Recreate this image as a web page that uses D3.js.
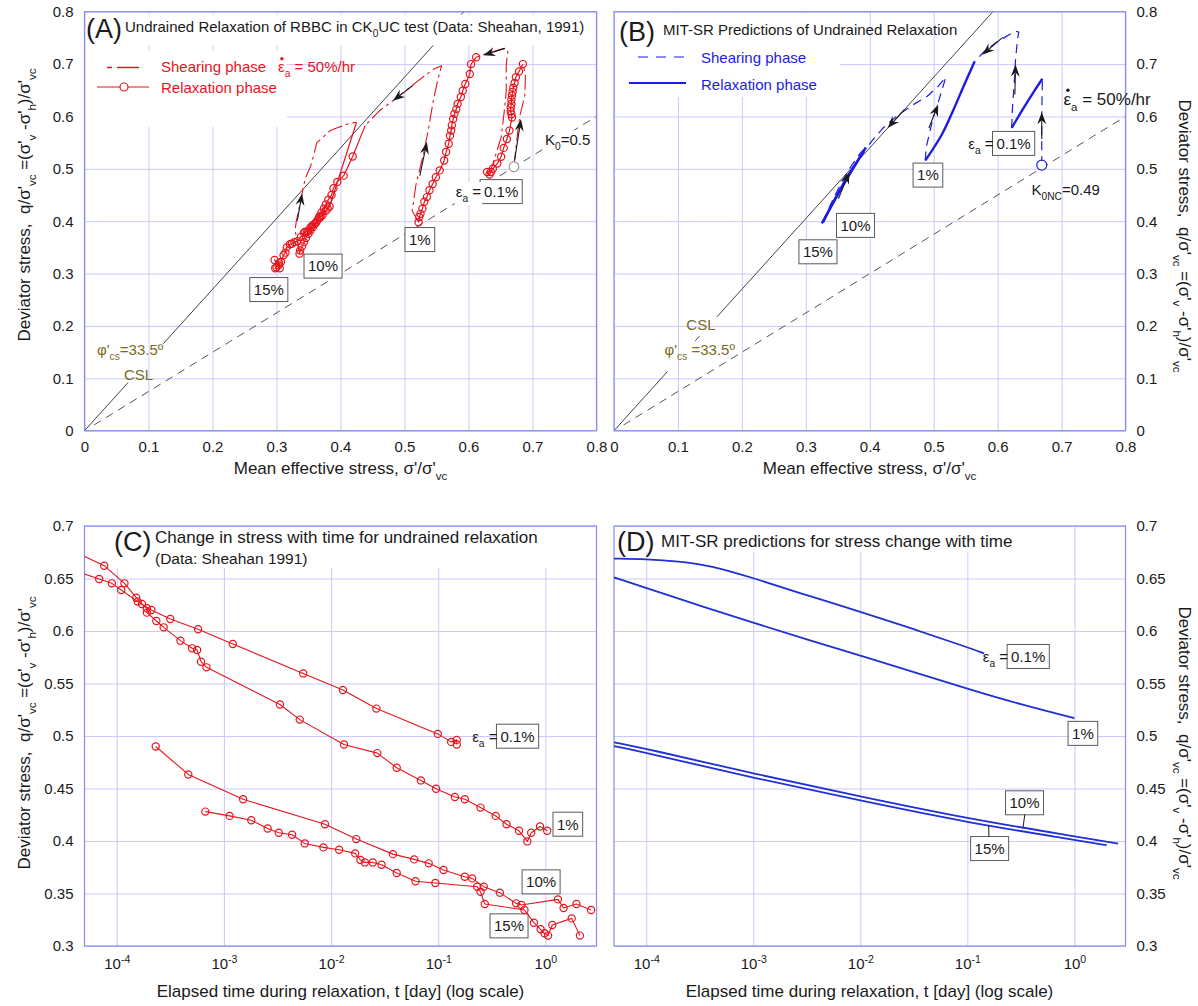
<!DOCTYPE html>
<html>
<head>
<meta charset="utf-8">
<title>Undrained relaxation of RBBC – measured and MIT-SR predicted</title>
<script src="https://cdn.jsdelivr.net/npm/d3@7/dist/d3.min.js"></script>
<style>
  html, body { margin: 0; padding: 0; background: #fff; }
  svg text { font-family: "Liberation Sans", Arial, Helvetica, sans-serif; white-space: pre; }
</style>
</head>
<body>
<svg id="fig" width="1198" height="1006"></svg>
<script>
// ---------------------------------------------------------------- tick values
const stressTicks = [0, 0.1, 0.2, 0.3, 0.4, 0.5, 0.6, 0.7, 0.8];
const qTimeTicks = [0.3, 0.35, 0.4, 0.45, 0.5, 0.55, 0.6, 0.65, 0.7];
const timeTicks = [1e-4, 1e-3, 1e-2, 1e-1, 1];

// ---------------------------------------------------------------- reference lines
const cslSlope = 1.35;               // M for phi'cs = 33.5 deg
const k0Line = [[0.015, 0.011], [0.8, 0.6]];
const cslPiecesA = [[[0, 0], [0.068, 0.0918]], [[0.123, 0.166], [0.5926, 0.8]]];
const cslPiecesB = [[[0, 0], [0.0836, 0.1129]], [[0.127, 0.1715], [0.134, 0.181]], [[0.161, 0.2174], [0.5926, 0.8]]];

// ---------------------------------------------------------------- (A) measured paths [p'/σ'vc, q/σ'vc]
const measStartA = [0.671, 0.504];
const measShear01 = [[0.671,0.504],[0.675,0.550],[0.680,0.600],[0.688,0.640],[0.689,0.680],[0.685,0.700]];
const measRelax01 = [[0.685,0.700],[0.679,0.686],[0.674,0.675],[0.672,0.664],[0.670,0.655],[0.669,0.647],[0.668,0.640],[0.667,0.632],[0.667,0.624],[0.666,0.617],[0.666,0.610],[0.667,0.604],[0.668,0.598],[0.664,0.573],[0.660,0.557],[0.655,0.540],[0.651,0.523],[0.645,0.510],[0.638,0.500],[0.635,0.494],[0.629,0.494],[0.633,0.489]];
const measShear1 = [[0.633,0.489],[0.638,0.5095],[0.651,0.560],[0.656,0.611],[0.659,0.649],[0.659,0.700],[0.6615,0.724],[0.656,0.730],[0.633,0.722],[0.612,0.713]];
const measRelax1 = [[0.612,0.713],[0.604,0.700],[0.602,0.681],[0.595,0.662],[0.591,0.649],[0.588,0.637],[0.583,0.624],[0.581,0.614],[0.578,0.605],[0.576,0.595],[0.574,0.583],[0.573,0.573],[0.571,0.563],[0.569,0.548],[0.565,0.532],[0.562,0.516],[0.555,0.497],[0.549,0.484],[0.544,0.471],[0.539,0.459],[0.535,0.446],[0.531,0.437],[0.528,0.424],[0.525,0.414],[0.523,0.408],[0.522,0.398]];
const measShear10 = [[0.522,0.398],[0.512,0.420],[0.518,0.470],[0.530,0.530],[0.538,0.580],[0.545,0.630],[0.552,0.670],[0.558,0.697],[0.545,0.690],[0.518,0.665],[0.482,0.630],[0.461,0.611],[0.4385,0.5825]];
// first entry of each of the next two is the end of the preceding shear (no marker)
const measRelax10 = [[0.4385,0.5825],[0.419,0.5235],[0.405,0.487],[0.395,0.475],[0.389,0.463],[0.386,0.450],[0.381,0.441],[0.377,0.432],[0.374,0.424],[0.370,0.416],[0.367,0.409],[0.364,0.402],[0.361,0.396],[0.357,0.389],[0.353,0.382],[0.350,0.376],[0.346,0.368],[0.343,0.360],[0.340,0.352],[0.337,0.344],[0.336,0.338]];
const measShear15 = [[0.336,0.338],[0.329,0.383],[0.331,0.400],[0.340,0.453],[0.345,0.482],[0.353,0.504],[0.3575,0.523],[0.363,0.550],[0.374,0.562],[0.384,0.573],[0.394,0.578],[0.415,0.587],[0.425,0.589]];
const measRelax15 = [[0.425,0.589],[0.383,0.428],[0.380,0.424],[0.377,0.420],[0.372,0.412],[0.369,0.408],[0.367,0.406],[0.362,0.398],[0.359,0.394],[0.356,0.392],[0.353,0.388],[0.350,0.382],[0.348,0.380],[0.345,0.380],[0.343,0.378],[0.338,0.370],[0.333,0.362],[0.328,0.360],[0.324,0.357],[0.321,0.356],[0.316,0.350],[0.314,0.340],[0.311,0.335],[0.307,0.322],[0.303,0.316],[0.300,0.312],[0.298,0.310],[0.304,0.320],[0.297,0.326],[0.305,0.310]];
const arrowsA = [
  [[0.672,0.516],[0.682,0.595]],
  [[0.657,0.730],[0.623,0.717]],
  [[0.524,0.487],[0.535,0.551]],
  [[0.513,0.659],[0.482,0.630]],
  [[0.3325,0.401],[0.340,0.453]]
];

// ---------------------------------------------------------------- (B) MIT-SR predicted paths
const predStartB = [0.669, 0.507];
const predShear01 = [[0.669,0.507],[0.669,0.600],[0.670,0.672]];
const predRelax01 = [[0.670,0.672],[0.657,0.648],[0.639,0.613],[0.622,0.578]];
const predShear1 = [[0.622,0.578],[0.623,0.613],[0.626,0.664],[0.628,0.708],[0.631,0.746],[0.633,0.761],[0.628,0.763],[0.600,0.743],[0.579,0.724],[0.564,0.705]];
const predRelax1 = [[0.564,0.705],[0.549,0.664],[0.531,0.613],[0.513,0.566],[0.487,0.516]];
const predShear10 = [[0.487,0.516],[0.488,0.540],[0.4985,0.594],[0.510,0.6385],[0.519,0.675],[0.507,0.6576],[0.490,0.6385],[0.466,0.621],[0.442,0.6005],[0.421,0.578],[0.406,0.557],[0.391,0.534]];
const predRelax10 = [[0.391,0.534],[0.360,0.474],[0.327,0.398]];
const predShear15 = [[0.327,0.398],[0.338,0.430],[0.352,0.465],[0.368,0.500],[0.385,0.530],[0.394,0.541]];
const predRelax15 = [[0.394,0.541],[0.362,0.476],[0.325,0.396]];
const arrowsB = [
  [[0.669,0.557],[0.669,0.608]],
  [[0.627,0.642],[0.628,0.699]],
  [[0.608,0.751],[0.576,0.718]],
  [[0.4925,0.578],[0.507,0.623]],
  [[0.454,0.613],[0.428,0.578]],
  [[0.351,0.443],[0.368,0.494]]
];

// ---------------------------------------------------------------- (C) measured q/σ'vc vs elapsed time [day]
const measTime01 = [[3e-5,0.662],[6.85e-5,0.6495],[9.0e-5,0.6454],[1.10e-4,0.639],[1.57e-4,0.628],[2.10e-4,0.620],[3.16e-4,0.6114],[5.74e-4,0.6016],[1.21e-3,0.5876],[5.5e-3,0.5596],[1.29e-2,0.5438],[2.65e-2,0.5261],[9.9e-2,0.502],[0.132,0.4944],[0.149,0.4963],[0.149,0.4919]];
const measTime1 = [[3e-5,0.682],[7.64e-5,0.6622],[1.18e-4,0.6454],[1.52e-4,0.6317],[1.72e-4,0.6257],[1.91e-4,0.6216],[1.91e-4,0.6175],[2.34e-4,0.6095],[2.74e-4,0.6035],[3.93e-4,0.5908],[5.05e-4,0.5835],[5.62e-4,0.5819],[6.12e-4,0.5708],[6.87e-4,0.5654],[3.33e-3,0.530],[5.1e-3,0.5156],[1.32e-2,0.4919],[2.70e-2,0.4837],[4.10e-2,0.4698],[6.89e-2,0.4577],[9.55e-2,0.4498],[0.143,0.4419],[0.177,0.4397],[0.248,0.4318],[0.344,0.4239],[0.434,0.4160],[0.567,0.4097],[0.679,0.3996],[0.738,0.4078],[0.891,0.4138],[1.04,0.4097]];
const measTime10 = [[2.31e-4,0.490],[4.65e-4,0.4634],[1.51e-3,0.4397],[8.77e-3,0.416],[1.72e-2,0.4018],[3.78e-2,0.3875],[5.97e-2,0.3825],[8.15e-2,0.3787],[0.112,0.3724],[0.177,0.366],[0.207,0.3644],[0.266,0.3565],[0.376,0.3508],[0.533,0.3406],[0.598,0.339],[1.31,0.3444],[1.48,0.3362],[1.95,0.340],[2.67,0.3343]];
const measTime15 = [[6.71e-4,0.428],[1.13e-3,0.4239],[1.80e-3,0.4198],[2.56e-3,0.4119],[3.25e-3,0.4078],[4.33e-3,0.4059],[5.68e-3,0.3977],[8.49e-3,0.3939],[1.19e-2,0.3917],[1.68e-2,0.3882],[1.88e-2,0.3819],[2.07e-2,0.3796],[2.45e-2,0.3796],[2.96e-2,0.3774],[4.10e-2,0.3695],[6.14e-2,0.3616],[9.4e-2,0.3600],[0.231,0.3565],[0.248,0.3517],[0.272,0.340],[0.638,0.3343],[0.782,0.3222],[0.902,0.3159],[0.982,0.3121],[1.06,0.3099],[1.16,0.320],[1.76,0.3263],[2.10,0.3099]];

// ---------------------------------------------------------------- (D) MIT-SR predicted q/σ'vc vs time
const predTime01 = [[5e-5,0.669],[1e-4,0.6685],[2e-4,0.6665],[4e-4,0.6625],[1e-3,0.6505],[3.16e-3,0.634],[1e-2,0.6185],[3.16e-2,0.6018],[0.1,0.5845],[0.143,0.5787]];
const predTime1 = [[5e-5,0.651],[1e-4,0.641],[3.16e-4,0.624],[1e-3,0.608],[3.16e-3,0.592],[1e-2,0.5765],[3.16e-2,0.561],[0.1,0.545],[0.316,0.530],[1,0.517]];
const predTime10 = [[5e-5,0.494],[1e-4,0.488],[1e-3,0.464],[1e-2,0.4425],[0.1,0.4213],[1,0.4045],[2.56,0.3976]];
const predTime15 = [[5e-5,0.4904],[1e-4,0.484],[1e-3,0.460],[1e-2,0.4385],[0.1,0.4175],[1,0.4012],[2.0,0.396]];

// ---------------------------------------------------------------- styling
const RED = "#e8141c", BLUE = "#1c1ce6", GRID = "#c9c9fa", FRAME = "#8a8af2",
      OLIVE = "#7b6a1e", INK = "#1a1a1a", FONT = "'Liberation Sans', Arial, Helvetica, sans-serif";

const svg = d3.select("#fig");

// ---------------------------------------------------------------- scales
const xA = d3.scaleLinear().domain([0, 0.8]).range([84.5, 596.5]);
const yA = d3.scaleLinear().domain([0, 0.8]).range([430.7, 11.7]);
const xB = d3.scaleLinear().domain([0, 0.8]).range([614, 1125.5]);
const yB = yA;
const xC = d3.scaleLog().domain([5e-5, 3]).range([84.5, 596.5]);
const yC = d3.scaleLinear().domain([0.3, 0.7]).range([946, 526]);
const xD = d3.scaleLog().domain([5e-5, 3]).range([614, 1125.5]);
const yD = yC;
const px = d3.scaleIdentity();

// ---------------------------------------------------------------- helpers
function richText(g, x, y, parts, size, opts = {}) {
  const t = g.append("text").attr("x", x).attr("y", y).attr("font-size", size)
    .attr("fill", opts.fill || INK).attr("text-anchor", opts.anchor || "start");
  if (opts.transform) t.attr("transform", opts.transform);
  let off = 0;
  for (const [s, k] of parts) {
    const target = k === 1 ? size * 0.33 : k === 2 ? -size * 0.45 : 0;
    t.append("tspan").attr("dy", target - off).attr("font-size", k ? size * 0.68 : size).text(s);
    off = target;
  }
  return t;
}

function whiteBehind(g, t, pad) {
  const b = t.node().getBBox();
  g.insert("rect", () => t.node()).attr("x", b.x - pad).attr("y", b.y - 1)
    .attr("width", b.width + 2 * pad).attr("height", b.height + 2).attr("fill", "#fff");
}

function gridAndFrame(g, x, y, xt, yt) {
  const [xa, xb] = x.range(), [ya, yb] = y.range();
  g.append("g").attr("transform", `translate(0,${ya})`)
    .call(d3.axisBottom(x).tickValues(xt).tickSize(-(ya - yb)).tickFormat(""))
    .call(s => { s.select(".domain").remove(); s.selectAll("line").attr("stroke", GRID).attr("stroke-width", 1); });
  g.append("g").attr("transform", `translate(${xa},0)`)
    .call(d3.axisLeft(y).tickValues(yt).tickSize(-(xb - xa)).tickFormat(""))
    .call(s => { s.select(".domain").remove(); s.selectAll("line").attr("stroke", GRID).attr("stroke-width", 1); });
}
function frame(g, x, y) {
  const [xa, xb] = x.range(), [ya, yb] = y.range();
  g.append("rect").attr("x", xa).attr("y", yb).attr("width", xb - xa).attr("height", ya - yb)
    .attr("fill", "none").attr("stroke", FRAME).attr("stroke-width", 1.2);
}
function styleAxis(s) {
  s.select(".domain").remove();
  s.attr("font-size", 15).attr("font-family", FONT);
  s.selectAll("text").attr("fill", INK);
}
function linearLabels(g, x, y, xt, yt, side) {
  const [xa, xb] = x.range(), [ya] = y.range();
  g.append("g").attr("transform", `translate(0,${ya})`)
    .call(d3.axisBottom(x).tickValues(xt).tickSize(0).tickPadding(11).tickFormat(d3.format("~g"))).call(styleAxis);
  const ax = side === "right" ? d3.axisRight(y) : d3.axisLeft(y);
  g.append("g").attr("transform", `translate(${side === "right" ? xb : xa},0)`)
    .call(ax.tickValues(yt).tickSize(0).tickPadding(11).tickFormat(d3.format("~g"))).call(styleAxis);
}
function logLabels(g, x, y, xt, yt, side) {
  const [xa, xb] = x.range(), [ya] = y.range();
  g.append("g").attr("transform", `translate(0,${ya})`)
    .call(d3.axisBottom(x).tickValues(xt).tickSize(0).tickPadding(12).tickFormat(""))
    .call(styleAxis)
    .call(s => s.selectAll(".tick text").each(function (d) {
      const t = d3.select(this);
      t.append("tspan").text("10");
      t.append("tspan").attr("dy", "-0.5em").attr("font-size", 10.5).text(Math.round(Math.log10(d)));
    }));
  const ax = side === "right" ? d3.axisRight(y) : d3.axisLeft(y);
  g.append("g").attr("transform", `translate(${side === "right" ? xb : xa},0)`)
    .call(ax.tickValues(yt).tickSize(0).tickPadding(11).tickFormat(d3.format("~g"))).call(styleAxis);
}

function clipFor(id, x, y) {
  const [xa, xb] = x.range(), [ya, yb] = y.range();
  svg.append("clipPath").attr("id", id).append("rect")
    .attr("x", xa).attr("y", yb).attr("width", xb - xa).attr("height", ya - yb);
  return svg.append("g").attr("clip-path", `url(#${id})`);
}

function path(g, x, y, pts, stroke, width, dash, curve) {
  const line = d3.line().x(d => x(d[0])).y(d => y(d[1]));
  if (curve) line.curve(curve);
  const p = g.append("path").attr("d", line(pts)).attr("fill", "none")
    .attr("stroke", stroke).attr("stroke-width", width).attr("stroke-linejoin", "round");
  if (dash) p.attr("stroke-dasharray", dash);
  return p;
}
function circles(g, x, y, pts, stroke) {
  g.selectAll(null).data(pts).join("circle")
    .attr("cx", d => x(d[0])).attr("cy", d => y(d[1])).attr("r", 3.6)
    .attr("fill", "none").attr("stroke", stroke).attr("stroke-width", 1.2);
}
function arrow(g, x, y, seg) {
  const [a, b] = seg;
  const x1 = x(a[0]), y1 = y(a[1]), x2 = x(b[0]), y2 = y(b[1]);
  const dx = x2 - x1, dy = y2 - y1, L = Math.hypot(dx, dy), ux = dx / L, uy = dy / L, nx = -uy, ny = ux;
  const hl = 12, hw = 4.5, notch = 8;
  g.append("line").attr("x1", x1).attr("y1", y1).attr("x2", x2 - ux * notch).attr("y2", y2 - uy * notch)
    .attr("stroke", INK).attr("stroke-width", 1.1);
  g.append("path").attr("fill", INK).attr("d",
    `M${x2},${y2}L${x2 - ux * hl + nx * hw},${y2 - uy * hl + ny * hw}L${x2 - ux * notch},${y2 - uy * notch}L${x2 - ux * hl - nx * hw},${y2 - uy * hl - ny * hw}Z`);
}
// boxed strain label; returns the left edge of the box
function boxLabel(g, cx, cy, txt) {
  const t = g.append("text").attr("x", cx).attr("y", cy + 5.3).attr("text-anchor", "middle")
    .attr("font-size", 15).attr("fill", INK).text(txt);
  const w = t.node().getComputedTextLength() + 8;
  g.insert("rect", () => t.node()).attr("x", cx - w / 2).attr("y", cy - 12).attr("width", w).attr("height", 24)
    .attr("fill", "#fff").attr("stroke", "#5a5a5a").attr("stroke-width", 1);
  return cx - w / 2;
}
// "εa =" written just left of a boxed value
function epsLabel(g, xRight, y, size) {
  return richText(g, xRight + 1, y, [["ε", 0], ["a", 1], [" =", 0]], size, { anchor: "end" });
}
function rateLabel(g, x, y, size, fill) {
  const t = richText(g, x, y, [["ε", 0], ["a", 1], [" = 50%/hr", 0]], size, { fill });
  g.append("circle").attr("cx", x + size * 0.26).attr("cy", y - size * 0.88).attr("r", 1.7).attr("fill", fill);
  return t;
}
const yTitleParts = [["Deviator stress,  q/σ'", 0], ["vc", 1], [" =(σ'", 0], ["v", 1], [" -σ'", 0], ["h", 1], [")/σ'", 0], ["vc", 1]];
const pTitleParts = [["Mean effective stress, σ'/σ'", 0], ["vc", 1]];
const tTitle = "Elapsed time during relaxation, t [day] (log scale)";

// ================================================================ (A)
{
  const g = svg.append("g");
  gridAndFrame(g, xA, yA, stressTicks, stressTicks);
  const lines = g.append("g");
  cslPiecesA.forEach(s => path(lines, xA, yA, s, "#444", 1));
  path(lines, xA, yA, k0Line, "#555", 1, "8,6");
  // title and legend panels sit on white
  g.append("rect").attr("x", 86).attr("y", 14.5).attr("width", 505).attr("height", 31).attr("fill", "#fff");
  g.append("rect").attr("x", 86).attr("y", 51).attr("width", 201).attr("height", 76).attr("fill", "#fff");
  frame(g, xA, yA);
  linearLabels(g, xA, yA, stressTicks, stressTicks, "left");

  const d = clipFor("clipA", xA, yA);
  const shearDash = "15,4,3,4";
  [measShear01, measShear1, measShear10, measShear15].forEach(s => path(d, xA, yA, s, RED, 1.1, shearDash));
  [measRelax01, measRelax1, measRelax10, measRelax15].forEach(s => path(d, xA, yA, s, RED, 1.2));
  circles(d, xA, yA, measRelax01, RED);
  circles(d, xA, yA, measRelax1, RED);
  circles(d, xA, yA, measRelax10.slice(1), RED);
  circles(d, xA, yA, measRelax15.slice(1), RED);
  d.append("circle").attr("cx", xA(measStartA[0])).attr("cy", yA(measStartA[1])).attr("r", 4.8)
    .attr("fill", "#fff").attr("stroke", "#999").attr("stroke-width", 1.2);
  arrowsA.forEach(s => arrow(d, xA, yA, s));

  // annotations
  richText(g, 86, 38, [["(A)", 0]], 27);
  richText(g, 125, 32, [["Undrained Relaxation of RBBC in CK", 0], ["0", 1], ["UC test (Data: Sheahan, 1991)", 0]], 15);
  path(g, px, px, [[107, 67.5], [139, 67.5]], RED, 1.3, "5,5,22,0");
  richText(g, 161, 72, [["Shearing phase", 0]], 15, { fill: RED });
  rateLabel(g, 278, 72, 15, RED);
  path(g, px, px, [[97, 87], [149, 87]], RED, 1.2);
  g.append("circle").attr("cx", 124).attr("cy", 87).attr("r", 4).attr("fill", "#fff").attr("stroke", RED).attr("stroke-width", 1.2);
  richText(g, 161, 93, [["Relaxation phase", 0]], 15, { fill: RED });

  richText(g, 97, 355, [["φ'", 0], ["cs", 1], ["=33.5º", 0]], 15, { fill: OLIVE });
  richText(g, 124, 380, [["CSL", 0]], 15, { fill: OLIVE });

  boxLabel(g, xA(0.524), yA(0.365), "1%");
  boxLabel(g, xA(0.3727), yA(0.3143), "10%");
  boxLabel(g, xA(0.288), yA(0.2695), "15%");
  const e1 = boxLabel(g, xA(0.651), yA(0.4565), "0.1%");
  whiteBehind(g, epsLabel(g, e1, yA(0.4565) + 5.5, 15), 1);
  whiteBehind(g, richText(g, xA(0.7195), yA(0.545), [["K", 0], ["0", 1], ["=0.5", 0]], 15), 2);

  richText(g, 340.5, 474, pTitleParts, 17, { anchor: "middle" });
  richText(g, 30, 205, yTitleParts, 17, { anchor: "middle", transform: "rotate(-90,30,205)" });
}

// ================================================================ (B)
{
  const g = svg.append("g");
  gridAndFrame(g, xB, yB, stressTicks, stressTicks);
  const lines = g.append("g");
  cslPiecesB.forEach(s => path(lines, xB, yB, s, "#444", 1));
  path(lines, xB, yB, k0Line, "#555", 1, "8,6");
  g.append("rect").attr("x", 615).attr("y", 13).attr("width", 225).attr("height", 84).attr("fill", "#fff");
  frame(g, xB, yB);
  linearLabels(g, xB, yB, stressTicks, stressTicks, "right");

  const d = clipFor("clipB", xB, yB);
  [predShear01, predShear1, predShear10, predShear15].forEach(s => path(d, xB, yB, s, BLUE, 1.2, "9,6"));
  [predRelax01, predRelax1, predRelax10, predRelax15].forEach(s => path(d, xB, yB, s, BLUE, 2.4, null, d3.curveMonotoneY));
  d.append("circle").attr("cx", xB(predStartB[0])).attr("cy", yB(predStartB[1])).attr("r", 5)
    .attr("fill", "#fff").attr("stroke", BLUE).attr("stroke-width", 1.2);
  arrowsB.forEach(s => arrow(d, xB, yB, s));

  richText(g, 619, 41, [["(B)", 0]], 27);
  richText(g, 663, 35, [["MIT-SR Predictions of Undrained Relaxation", 0]], 15);
  path(g, px, px, [[638, 57], [686, 57]], BLUE, 1.2, "10,8");
  richText(g, 701, 63, [["Shearing phase", 0]], 15, { fill: BLUE });
  path(g, px, px, [[629, 83], [686, 83]], BLUE, 2.2);
  richText(g, 701, 90, [["Relaxation phase", 0]], 15, { fill: BLUE });

  richText(g, xB(0.136), yB(0.204) + 6, [["CSL", 0]], 15, { fill: OLIVE, anchor: "middle" });
  richText(g, xB(0.079), yB(0.144), [["φ'", 0], ["cs", 1], [" =33.5º", 0]], 15, { fill: OLIVE });

  boxLabel(g, xB(0.319), yB(0.3416), "15%");
  boxLabel(g, xB(0.3777), yB(0.392), "10%");
  boxLabel(g, xB(0.491), yB(0.488), "1%");
  const e1 = boxLabel(g, xB(0.625), yB(0.5485), "0.1%");
  epsLabel(g, e1, yB(0.5485) + 5.5, 15);
  richText(g, xB(0.653), yB(0.450), [["K", 0], ["0NC", 1], ["=0.49", 0]], 15);
  rateLabel(g, xB(0.703), yB(0.6215), 17, INK);

  richText(g, 869.5, 474, pTitleParts, 17, { anchor: "middle" });
  richText(g, 1179, 236, yTitleParts, 17, { anchor: "middle", transform: "rotate(90,1179,236)" });
}

// ================================================================ (C)
{
  const g = svg.append("g");
  gridAndFrame(g, xC, yC, timeTicks, qTimeTicks);
  g.append("rect").attr("x", 110).attr("y", 527).attr("width", 442).attr("height", 41).attr("fill", "#fff");
  frame(g, xC, yC);
  logLabels(g, xC, yC, timeTicks, qTimeTicks, "left");

  const d = clipFor("clipC", xC, yC);
  [measTime01, measTime1, measTime10, measTime15].forEach(s => {
    path(d, xC, yC, s, RED, 1.1);
    circles(d, xC, yC, s.filter(p => p[0] >= 5e-5), RED);
  });

  richText(g, 114, 551, [["(C)", 0]], 27);
  richText(g, 155, 543, [["Change in stress with time for undrained relaxation", 0]], 17);
  richText(g, 155, 564, [["(Data: Sheahan 1991)", 0]], 15.5);

  const e1 = boxLabel(g, xC(0.55), yC(0.4998), "0.1%");
  epsLabel(g, e1, yC(0.4998) + 5.5, 15);
  boxLabel(g, xC(1.62), yC(0.416), "1%");
  boxLabel(g, xC(0.912), yC(0.3611), "10%");
  boxLabel(g, xC(0.458), yC(0.3192), "15%");

  richText(g, 340.5, 997, [[tTitle, 0]], 17, { anchor: "middle" });
  richText(g, 30, 733, yTitleParts, 17, { anchor: "middle", transform: "rotate(-90,30,733)" });
}

// ================================================================ (D)
{
  const g = svg.append("g");
  gridAndFrame(g, xD, yD, timeTicks, qTimeTicks);
  g.append("rect").attr("x", 615).attr("y", 527).attr("width", 417).attr("height", 25).attr("fill", "#fff");
  frame(g, xD, yD);
  logLabels(g, xD, yD, timeTicks, qTimeTicks, "right");

  const d = clipFor("clipD", xD, yD);
  [predTime01, predTime1, predTime10, predTime15].forEach(s => path(d, xD, yD, s, "#2030d4", 1.8, null, d3.curveBasis));

  richText(g, 617, 551, [["(D)", 0]], 27);
  richText(g, 661, 547, [["MIT-SR predictions for stress change with time", 0]], 17);

  const e1 = boxLabel(g, xD(0.37), yD(0.5757), "0.1%");
  epsLabel(g, e1, yD(0.5757) + 5.5, 15);
  boxLabel(g, xD(1.2), yD(0.5025), "1%");
  boxLabel(g, xD(0.342), yD(0.4364), "10%");
  boxLabel(g, xD(0.1614), yD(0.3928), "15%");
  path(g, xD, yD, [[0.344, 0.4254], [0.33, 0.4118]], INK, 1);
  path(g, xD, yD, [[0.159, 0.404], [0.158, 0.4153]], INK, 1);

  richText(g, 869.5, 997, [[tTitle, 0]], 17, { anchor: "middle" });
  richText(g, 1179, 743, yTitleParts, 17, { anchor: "middle", transform: "rotate(90,1179,743)" });
}
</script>
</body>
</html>
